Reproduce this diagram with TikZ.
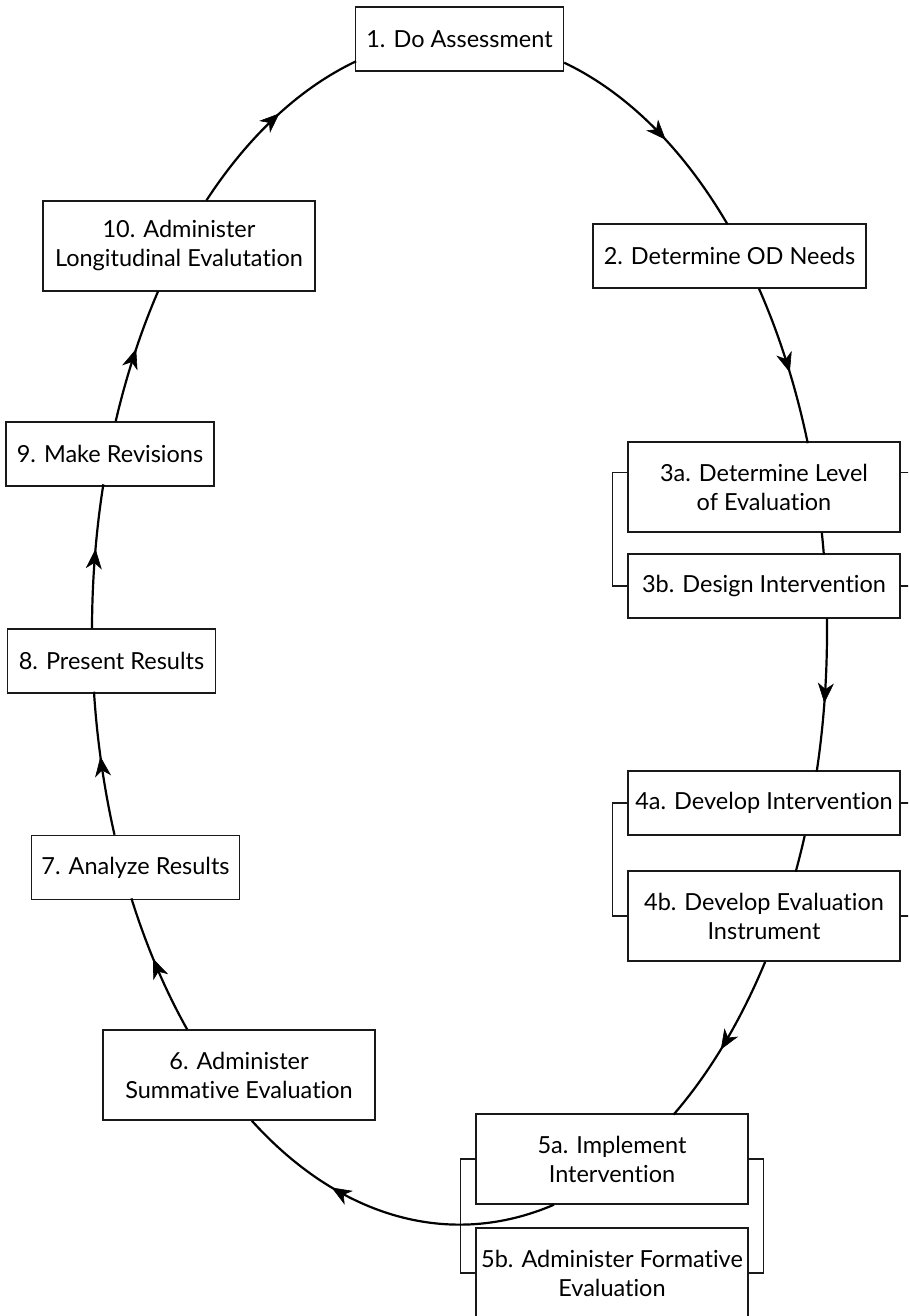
\documentclass[tikz,border=0pt]{standalone}
\usepackage{fontspec}
\setmainfont{Lato}[Ligatures=NoCommon]
\usetikzlibrary{arrows.meta,decorations.markings}

\newcommand{\boxfont}{\fontsize{23.5}{29}\selectfont}

\tikzset{
  box/.style={draw=black!90, line width=1.4pt, fill=white, rectangle,
    minimum width=272pt, minimum height=64pt, inner sep=2pt,
    align=center, font=\boxfont},
  narrow/.style={minimum width=208pt},
  tall/.style={minimum height=90pt},
  cycle/.style={x radius=367.5pt, y radius=593.5pt},
  link/.style={line width=2.2pt, draw=black},
  tipshape/.tip={Stealth[length=20pt, width=16pt, inset=6pt]},
  flow/.style={link, postaction={decorate},
    decoration={markings, mark=at position #1 with
      {\arrow[line width=0.6pt]{tipshape}}}},
  flow/.default=0.55,
  bracket/.style={line width=1.1pt, draw=black!90}
}

\begin{document}
\begin{tikzpicture}[x=1pt, y=1pt]
  \useasboundingbox (0,0) rectangle (908,1316);
  \clip (0,0) rectangle (908,1316);

  % process steps
  \node[box, narrow]      (b1)  at (459.5,1277) {1. Do Assessment};
  \node[box, minimum width=273pt] (b2) at (729.5,1060) {2. Determine OD Needs};
  \node[box, tall]        (b3a) at (764,829)  {3a. Determine Level\\of Evaluation};
  \node[box]              (b3b) at (764,730)  {3b. Design Intervention};
  \node[box]              (b4a) at (764,513)  {4a. Develop Intervention};
  \node[box, tall]        (b4b) at (764,400)  {4b. Develop Evaluation\\Instrument};
  \node[box, tall]        (b5a) at (612,157)  {5a. Implement\\Intervention};
  \node[box, tall]        (b5b) at (612,43)   {5b. Administer Formative\\Evaluation};
  \node[box, tall]        (b6)  at (239,241)  {6. Administer\\Summative Evaluation};
  \node[box, narrow]      (b7)  at (135.5,448.5) {7. Analyze Results};
  \node[box, narrow]      (b8)  at (111.5,655) {8. Present Results};
  \node[box, narrow]      (b9)  at (110,862)  {9. Make Revisions};
  \node[box, tall]        (b10) at (179,1070) {10. Administer\\Longitudinal Evalutation};

  % brackets grouping paired steps
  \draw[bracket] ([yshift=-31pt]b3a.north west) -- ++(-15,0) |- (b3b.west);
  \draw[bracket] ([yshift=-31pt]b3a.north east) -- ++(15,0) |- (b3b.east);
  \draw[bracket] (b4a.west) -- ++(-15,0) |- (b4b.west);
  \draw[bracket] (b4a.east) -- ++(15,0) |- (b4b.east);
  \draw[bracket] (b5a.west) -- ++(-15,0) |- (b5b.west);
  \draw[bracket] (b5a.east) -- ++(15,0) |- (b5b.east);

  % the cycle, drawn as arcs of one ellipse
  \draw[flow] ([yshift=9pt]b1.south east) arc[cycle, start angle=73.6, end angle=43.4];
  \draw[flow] ([xshift=29.5pt]b2.south) arc[cycle, start angle=35.4, end angle=18.6];
  \draw[link] ([xshift=57.8pt]b3a.south) arc[cycle, start angle=9.65, end angle=7.5];
  \draw[flow] ([xshift=62.9pt]b3b.south) arc[cycle, start angle=1.3, end angle=-13.6];
  \draw[link] ([xshift=40.7pt]b4a.south) arc[cycle, start angle=-20.05, end angle=-23.8];
  \draw[flow] ([xshift=1.2pt]b4b.south) arc[cycle, start angle=-33.73, end angle=-54.4];
  \draw[flow=0.69] ([xshift=-58pt]b5a.south) arc[cycle, start angle=-75.1, end angle=-124.4];
  \draw[flow] ([xshift=-51.9pt]b6.north) arc[cycle, start angle=222.17, end angle=206.79];
  \draw[flow] ([xshift=-21pt]b7.north) arc[cycle, start angle=200.16, end angle=185.95];
  \draw[flow] ([xshift=-19.5pt]b8.north) arc[cycle, start angle=179.76, end angle=165.71];
  \draw[flow] ([xshift=5.7pt]b9.north) arc[cycle, start angle=159.33, end angle=145.11];
  \draw[flow] ([xshift=27.5pt]b10.north) arc[cycle, start angle=133.5, end angle=106.34];
\end{tikzpicture}
\end{document}
